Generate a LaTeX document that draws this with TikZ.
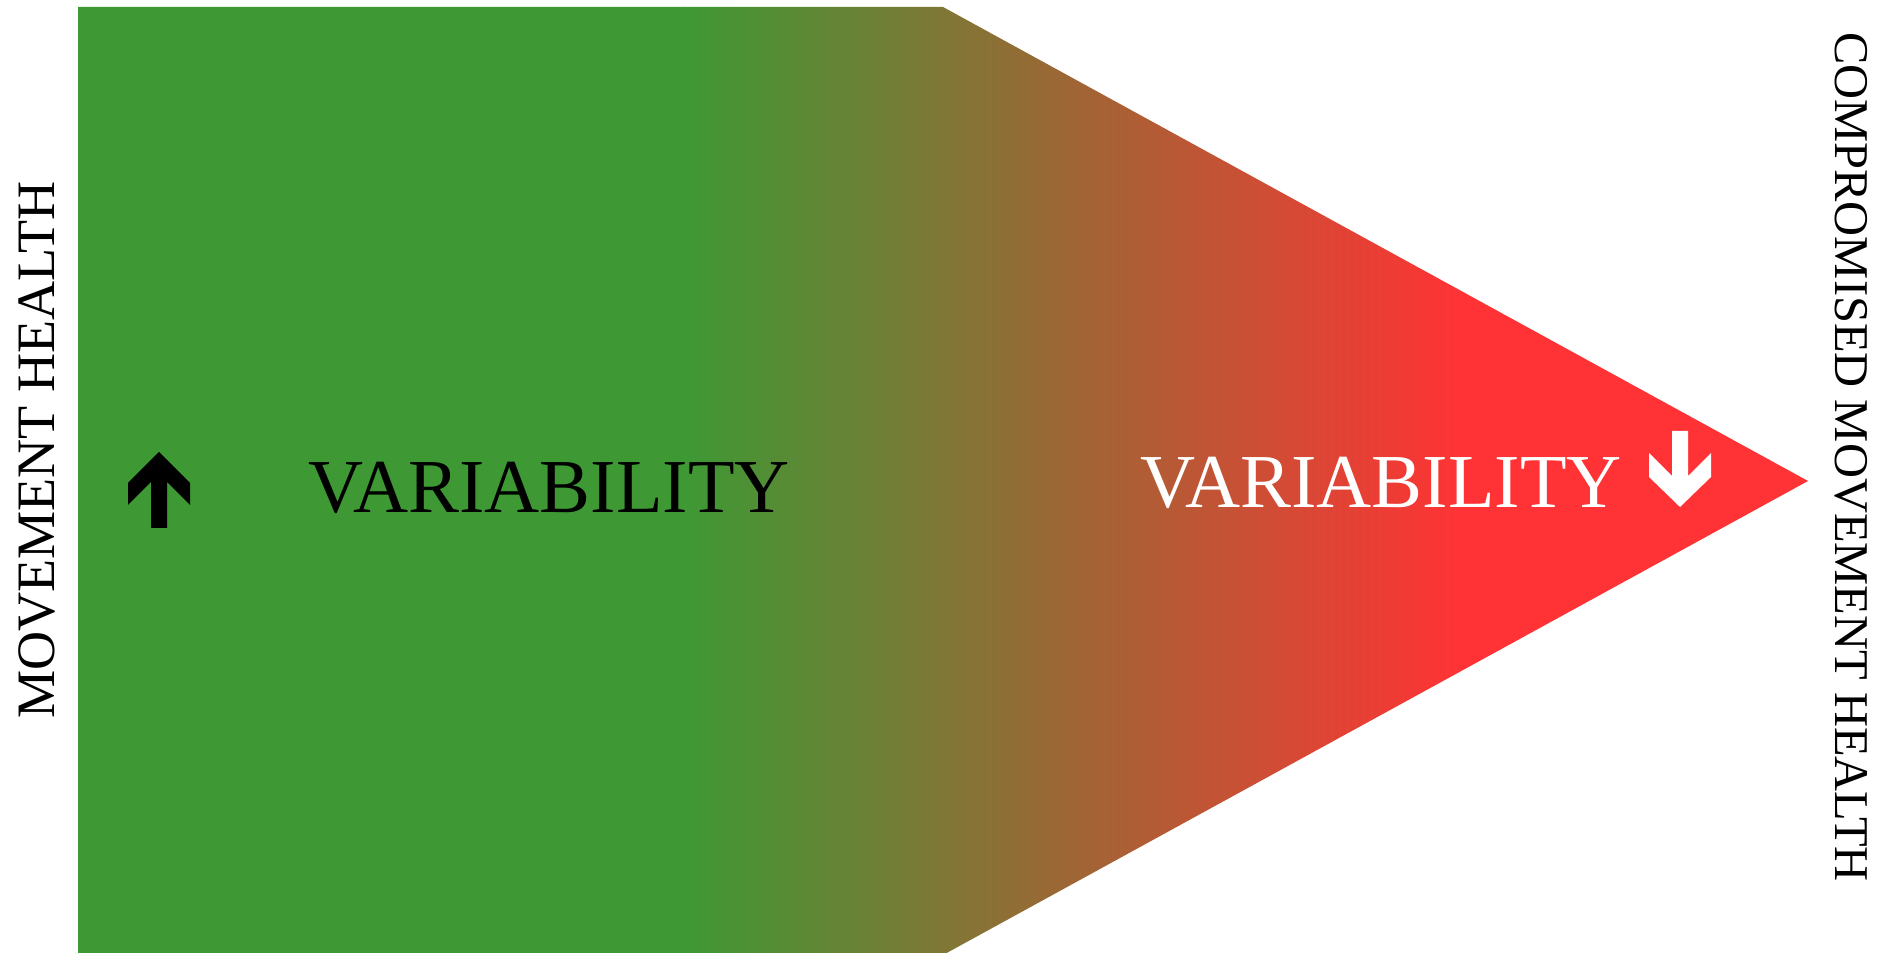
\documentclass[tikz,border=0pt]{standalone}
\usepackage{fontspec}
\setmainfont{Liberation Serif}
\usetikzlibrary{positioning}
\definecolor{healthgreen}{RGB}{62,153,53}
\definecolor{healthred}{RGB}{255,51,53}

\begin{document}
\begin{tikzpicture}[x=0.1mm, y=-0.1mm,
    sidetext/.style={font=\fontsize{15.4}{16}\selectfont, inner sep=0pt},
    vartext/.style={font=\fontsize{21.7}{22}\selectfont, inner sep=0pt, anchor=base}]
    \useasboundingbox (0,0) rectangle (1878,953);

    % funnel, green fading into red
    \begin{scope}
      \clip (78,7) -- (943,7) -- (1808,481) -- (943,955) -- (78,955) -- cycle;
      \fill[healthgreen] (70,0) rectangle (684,960);
      \shade[left color=healthgreen, right color=healthred] (683,0) rectangle (1460,960);
      \fill[healthred] (1459,0) rectangle (1820,960);
    \end{scope}

    \node[sidetext, rotate=90] (mhealth) at (37,450) {MOVEMENT HEALTH};
    \node[sidetext, rotate=-90, font=\fontsize{13.8}{14}\selectfont] (cmhealth) at (1851,457) {COMPROMISED MOVEMENT HEALTH};

    \node[vartext] (varup) at (549,513) {VARIABILITY};
    \node[vartext, text=white] (vardown) at (1381,508) {VARIABILITY};

    % up and down arrows
    \fill (159,452) -- (190,483) -- (190,505) -- (167,482) -- (167,528) -- (151,528) -- (151,482) -- (128,505) -- (128,483) -- cycle;
    \fill[white] (1680,507) -- (1711,477) -- (1711,453) -- (1688,476) -- (1688,431) -- (1672,431) -- (1672,476) -- (1649,453) -- (1649,477) -- cycle;
\end{tikzpicture}
\end{document}
